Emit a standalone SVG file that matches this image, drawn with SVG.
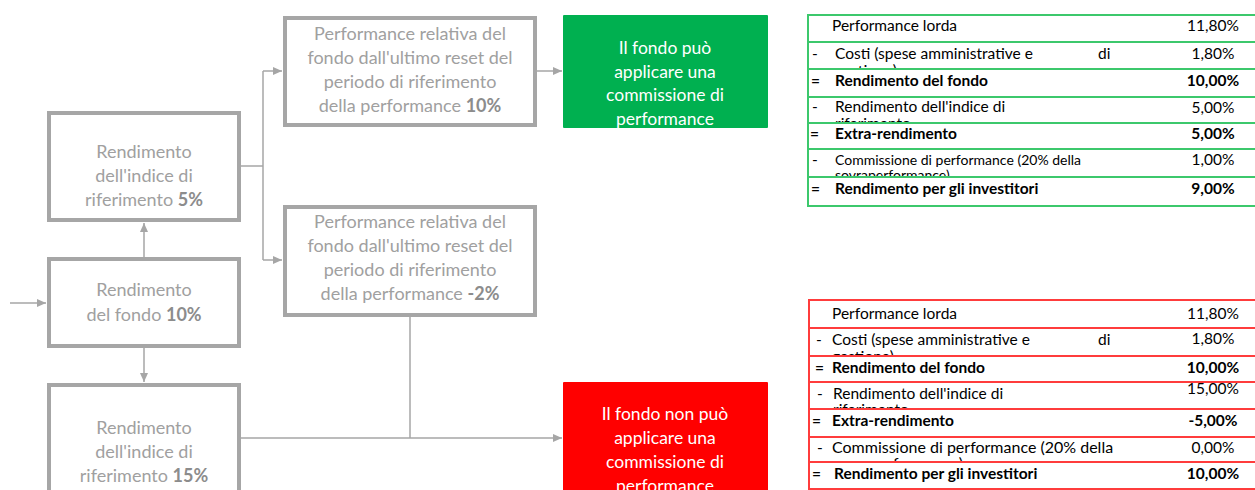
<svg xmlns="http://www.w3.org/2000/svg" width="1255" height="490" viewBox="0 0 1255 490">
<style>
.box{fill:#fff;stroke:#A6A6A6;stroke-width:4}
.bt{font-family:Lato,"Liberation Sans",sans-serif;font-size:18px;fill:#A0A0A0;text-anchor:middle}
.bt .b{font-weight:bold;fill:#8C8C8C}
.wt{font-family:Lato,"Liberation Sans",sans-serif;font-size:17.5px;fill:#fff;text-anchor:middle}
.conn{fill:none;stroke:#A6A6A6;stroke-width:1.5}
.tt{font-family:Lato,"Liberation Sans",sans-serif;font-size:15.5px;fill:#000}
.tb{font-weight:bold}
.v{text-anchor:middle}
.gl{stroke:#3CC86C;stroke-width:2;fill:none}
.rl{stroke:#FF3C3C;stroke-width:2;fill:none}
</style>
<defs>
<marker id="arr" markerUnits="userSpaceOnUse" markerWidth="10" markerHeight="10" refX="9" refY="5" orient="auto">
<path d="M0,1 L9,5 L0,9 Z" fill="#A6A6A6"/>
</marker>
<clipPath id="cg1"><rect x="808" y="43" width="450" height="25"/></clipPath>
<clipPath id="cg2"><rect x="808" y="98" width="450" height="24"/></clipPath>
<clipPath id="cg3"><rect x="808" y="150" width="450" height="26"/></clipPath>
<clipPath id="cr1"><rect x="808" y="329" width="450" height="26"/></clipPath>
<clipPath id="cr2"><rect x="808" y="383" width="450" height="25"/></clipPath>
<clipPath id="cr3"><rect x="808" y="438" width="450" height="23"/></clipPath>
</defs>

<g id="connectors">
<path class="conn" d="M10,303 H46" marker-end="url(#arr)"/>
<path class="conn" d="M144,257 V223" marker-end="url(#arr)"/>
<path class="conn" d="M144,348 V382" marker-end="url(#arr)"/>
<path class="conn" d="M241,166 H263 M263,71 V260"/>
<path class="conn" d="M263,71 H282" marker-end="url(#arr)"/>
<path class="conn" d="M263,260 H282" marker-end="url(#arr)"/>
<path class="conn" d="M537,71 H562" marker-end="url(#arr)"/>
<path class="conn" d="M410,317 V438"/>
<path class="conn" d="M241,438 H562" marker-end="url(#arr)"/>
</g>

<g id="node-indice5">
<rect class="box" x="49" y="113" width="190" height="107"/>
<text class="bt" x="144" y="158">Rendimento</text>
<text class="bt" x="144" y="182">dell'indice di</text>
<text class="bt" x="144" y="206">riferimento <tspan class="b">5%</tspan></text>
</g>

<g id="node-fondo">
<rect class="box" x="49" y="259" width="190" height="87"/>
<text class="bt" x="144" y="296">Rendimento</text>
<text class="bt" x="144" y="321">del fondo <tspan class="b">10%</tspan></text>
</g>

<g id="node-indice15">
<rect class="box" x="49" y="385" width="190" height="120"/>
<text class="bt" x="144" y="434">Rendimento</text>
<text class="bt" x="144" y="458">dell'indice di</text>
<text class="bt" x="144" y="482">riferimento <tspan class="b">15%</tspan></text>
</g>

<g id="node-perf10">
<rect class="box" x="285" y="18" width="250" height="107"/>
<text class="bt" x="410" y="40">Performance relativa del</text>
<text class="bt" x="410" y="64">fondo dall'ultimo reset del</text>
<text class="bt" x="410" y="88">periodo di riferimento</text>
<text class="bt" x="410" y="112">della performance <tspan class="b">10%</tspan></text>
</g>

<g id="node-perf-2">
<rect class="box" x="285" y="207" width="250" height="108"/>
<text class="bt" x="410" y="228">Performance relativa del</text>
<text class="bt" x="410" y="252">fondo dall'ultimo reset del</text>
<text class="bt" x="410" y="276">periodo di riferimento</text>
<text class="bt" x="410" y="300">della performance <tspan class="b">-2%</tspan></text>
</g>

<g id="node-puo">
<rect x="563" y="15" width="205" height="113" rx="1" fill="#00B050"/>
<text class="wt" x="665" y="54">Il fondo può</text>
<text class="wt" x="665" y="78">applicare una</text>
<text class="wt" x="665" y="101">commissione di</text>
<text class="wt" x="665" y="125">performance</text>
</g>

<g id="node-nonpuo">
<rect x="563" y="382" width="205" height="120" rx="1" fill="#FF0000"/>
<text class="wt" x="665" y="420">Il fondo non può</text>
<text class="wt" x="665" y="444">applicare una</text>
<text class="wt" x="665" y="468">commissione di</text>
<text class="wt" x="665" y="492">performance</text>
</g>

<g id="table-green">
<path class="gl" d="M808,15 V206 M807,15 H1257 M807,42 H1257 M807,69 H1257 M807,97 H1257 M807,123 H1257 M807,149 H1257 M807,177 H1257 M807,206 H1257"/>
<text class="tt" x="832" y="31">Performance lorda</text>
<text class="tt v" x="1213" y="31">11,80%</text>
<text class="tt" x="812" y="59">-</text>
<text class="tt" x="835" y="59">Costi (spese amministrative e</text>
<text class="tt" x="1098" y="59">di</text>
<text class="tt" x="835" y="76" clip-path="url(#cg1)">gestione)</text>
<text class="tt v" x="1213" y="59">1,80%</text>
<text class="tt tb" x="811" y="86">=</text>
<text class="tt tb" x="835" y="86">Rendimento del fondo</text>
<text class="tt tb v" x="1213" y="86">10,00%</text>
<text class="tt" x="812" y="112">-</text>
<text class="tt" x="835" y="112">Rendimento dell'indice di</text>
<text class="tt" x="835" y="129" clip-path="url(#cg2)">riferimento</text>
<text class="tt v" x="1213" y="113">5,00%</text>
<text class="tt tb" x="810" y="139">=</text>
<text class="tt tb" x="835" y="139">Extra-rendimento</text>
<text class="tt tb v" x="1213" y="139">5,00%</text>
<text class="tt" x="812" y="165">-</text>
<text class="tt" x="835" y="165" style="font-size:14px">Commissione di performance (20% della</text>
<text class="tt" x="835" y="180" style="font-size:14px" clip-path="url(#cg3)">sovraperformance)</text>
<text class="tt v" x="1213" y="165">1,00%</text>
<text class="tt tb" x="811" y="194">=</text>
<text class="tt tb" x="835" y="194">Rendimento per gli investitori</text>
<text class="tt tb v" x="1213" y="194">9,00%</text>
</g>

<g id="table-red">
<path class="rl" d="M809,300 V490 M808,300 H1257 M808,328 H1257 M808,356 H1257 M808,382 H1257 M808,409 H1257 M808,437 H1257 M808,462 H1257 M808,489 H1257"/>
<text class="tt" x="832" y="319">Performance lorda</text>
<text class="tt v" x="1213" y="319">11,80%</text>
<text class="tt" x="816" y="345">-</text>
<text class="tt" x="832" y="345">Costi (spese amministrative e</text>
<text class="tt" x="1098" y="345">di</text>
<text class="tt" x="832" y="362" clip-path="url(#cr1)">gestione)</text>
<text class="tt v" x="1213" y="344">1,80%</text>
<text class="tt tb" x="815" y="373">=</text>
<text class="tt tb" x="832" y="373">Rendimento del fondo</text>
<text class="tt tb v" x="1213" y="373">10,00%</text>
<text class="tt" x="817" y="399">-</text>
<text class="tt" x="833" y="399">Rendimento dell'indice di</text>
<text class="tt" x="833" y="415" clip-path="url(#cr2)">riferimento</text>
<text class="tt v" x="1213" y="394">15,00%</text>
<text class="tt tb" x="812" y="426">=</text>
<text class="tt tb" x="832" y="426">Extra-rendimento</text>
<text class="tt tb v" x="1213" y="426">-5,00%</text>
<text class="tt" x="817" y="453">-</text>
<text class="tt" x="832" y="453" style="font-size:16px">Commissione di performance (20% della</text>
<text class="tt" x="832" y="469" style="font-size:16px" clip-path="url(#cr3)">sovraperformance)</text>
<text class="tt v" x="1213" y="453">0,00%</text>
<text class="tt tb" x="812" y="479">=</text>
<text class="tt tb" x="834" y="479">Rendimento per gli investitori</text>
<text class="tt tb v" x="1213" y="479">10,00%</text>
</g>
</svg>
